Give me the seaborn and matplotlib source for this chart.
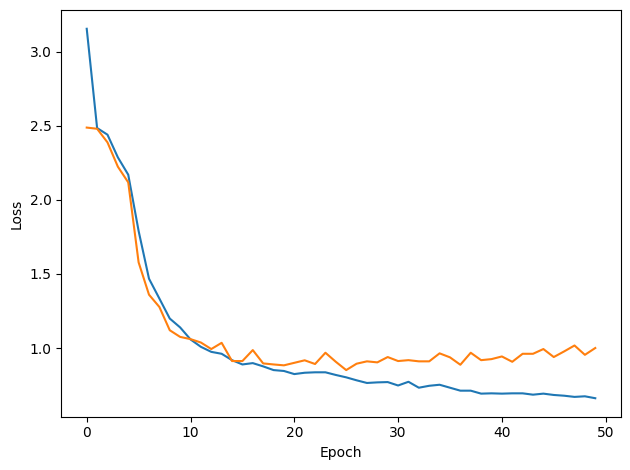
import numpy as np
import pandas as pd
import matplotlib
matplotlib.use("Agg")
import matplotlib.pyplot as plt
import seaborn as sns

epochs = list(range(50))
train_loss = [3.155, 2.485, 2.44, 2.287, 2.17, 1.79, 1.468, 1.334, 1.199, 1.139,
              1.058, 1.008, 0.974, 0.961, 0.918, 0.889, 0.898, 0.876, 0.851, 0.845,
              0.824, 0.833, 0.836, 0.836, 0.818, 0.802, 0.782, 0.764, 0.768, 0.77,
              0.747, 0.772, 0.732, 0.745, 0.752, 0.732, 0.712, 0.712, 0.692, 0.694,
              0.692, 0.694, 0.694, 0.685, 0.692, 0.683, 0.678, 0.67, 0.674, 0.661]
val_loss = [2.488, 2.48, 2.388, 2.224, 2.118, 1.578, 1.36, 1.277, 1.12, 1.075,
            1.06, 1.037, 0.993, 1.035, 0.912, 0.912, 0.986, 0.896, 0.889, 0.883,
            0.90, 0.917, 0.892, 0.968, 0.907, 0.851, 0.894, 0.91, 0.903, 0.939,
            0.912, 0.918, 0.91, 0.91, 0.964, 0.937, 0.887, 0.968, 0.918, 0.925,
            0.943, 0.907, 0.961, 0.961, 0.993, 0.939, 0.977, 1.017, 0.954, 1.0]

df = pd.DataFrame({
    "Epoch": epochs + epochs,
    "Loss": train_loss + val_loss,
    "Series": ["train"] * len(epochs) + ["val"] * len(epochs),
})

fig, ax = plt.subplots(figsize=(6.3, 4.7), dpi=100)
sns.lineplot(data=df, x="Epoch", y="Loss", hue="Series",
             palette=["#1f77b4", "#ff7f0e"], legend=False, ax=ax, linewidth=1.5)
ax.set_xlabel("Epoch")
ax.set_ylabel("Loss")
fig.subplots_adjust(left=61.3 / 630, right=620.7 / 630,
                    top=1 - 10.3 / 470, bottom=1 - 416.7 / 470)
fig.savefig("out.png", dpi=100)
